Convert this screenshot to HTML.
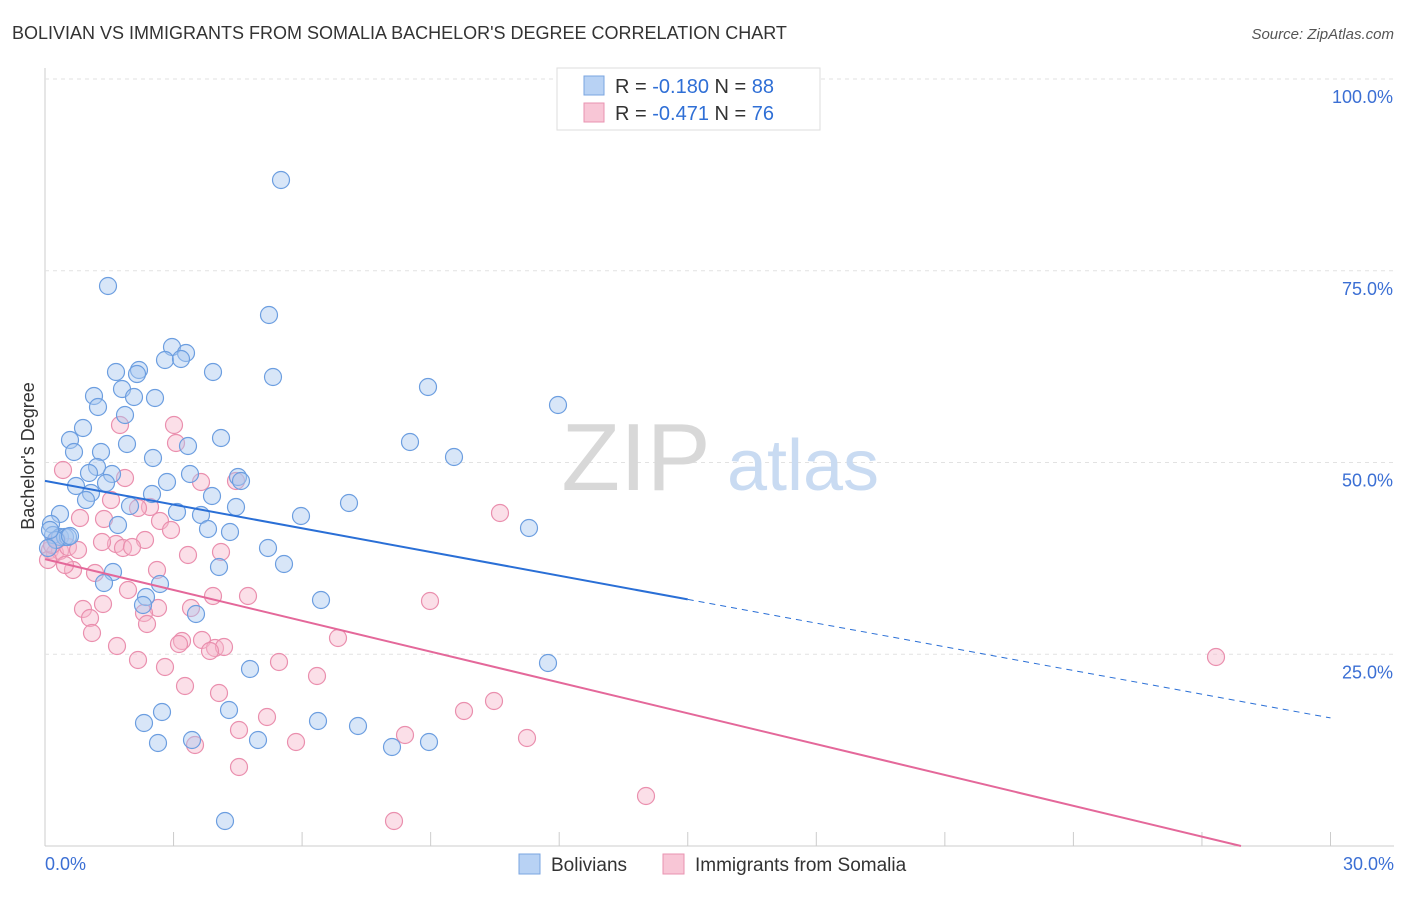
<!DOCTYPE html>
<html><head><meta charset="utf-8"><style>
body{margin:0;background:#fff;font-family:"Liberation Sans",sans-serif}
svg text{font-family:"Liberation Sans",sans-serif}
</style></head><body>
<svg id="c" width="1406" height="892">
<text x="12" y="39" font-size="18" fill="#333">BOLIVIAN VS IMMIGRANTS FROM SOMALIA BACHELOR'S DEGREE CORRELATION CHART</text>
<text x="1394" y="39" font-size="15" fill="#555" text-anchor="end" font-style="italic">Source: ZipAtlas.com</text>
<text x="34" y="456" font-size="18" fill="#333" text-anchor="middle" transform="rotate(-90 34 456)">Bachelor's Degree</text>
<g id="grid"></g>
<text x="636" y="490" font-size="96" fill="#d8d8d8" font-family="Liberation Serif" text-anchor="middle">ZIP</text>
<text x="803" y="490" font-size="72" fill="#c9dbf2" text-anchor="middle">atlas</text>
<g id="pts"></g>
<g id="lines"></g>
<g>
<rect x="557" y="68" width="263" height="62" fill="#fff" stroke="#ddd"/>
<rect x="584" y="76" width="20" height="19" fill="#b8d2f4" stroke="#7aa5e0"/>
<rect x="584" y="103" width="20" height="19" fill="#f8c6d6" stroke="#e993b0"/>
<text x="615" y="93" font-size="20" fill="#333">R = <tspan fill="#2f6fd6">-0.180</tspan>   N = <tspan fill="#2f6fd6">88</tspan></text>
<text x="615" y="120" font-size="20" fill="#333">R = <tspan fill="#2f6fd6">-0.471</tspan>   N = <tspan fill="#2f6fd6">76</tspan></text>
</g>
<g>
<rect x="519" y="854" width="21" height="20" fill="#b8d2f4" stroke="#7aa5e0"/>
<text x="551" y="871" font-size="19" fill="#333">Bolivians</text>
<rect x="663" y="854" width="21" height="20" fill="#f8c6d6" stroke="#e993b0"/>
<text x="695" y="871" font-size="19" fill="#333">Immigrants from Somalia</text>
</g>
<text x="45" y="870" font-size="18" fill="#3b6fd4">0.0%</text>
<text x="1394" y="870" font-size="18" fill="#3b6fd4" text-anchor="end">30.0%</text>
</svg>
<script>
const yTicks=[25,50,75,100];
const yTickLabels=["25.0%","50.0%","75.0%","100.0%"];
const blueTrend=[47.6,16.7];
const pinkTrend=[37.4,-2.8];
const bluePx=[[281,180],[108,286],[269,315],[172,347],[186,353],[165,360],[181,359],[116,372],[139,370],[137,374],[213,372],[273,377],[428,387],[94,396],[122,389],[134,397],[155,398],[98,407],[125,415],[83,428],[70,440],[221,438],[410,442],[127,444],[454,457],[558,405],[74,452],[101,452],[153,458],[188,446],[97,467],[89,473],[112,474],[190,474],[238,477],[241,481],[76,486],[106,483],[91,493],[167,482],[152,494],[212,496],[86,500],[130,506],[349,503],[236,507],[60,514],[177,512],[201,515],[301,516],[118,525],[230,532],[529,528],[208,529],[51,524],[53,535],[60,537],[65,537],[68,537],[56,540],[268,548],[284,564],[113,572],[219,567],[104,583],[160,584],[321,600],[146,597],[143,605],[196,614],[548,663],[250,669],[144,723],[162,712],[229,710],[318,721],[358,726],[158,743],[192,740],[258,740],[392,747],[429,742],[225,821],[50,530],[48,548],[70,536]];
const pinkPx=[[63,470],[174,425],[120,425],[176,443],[125,478],[111,500],[236,481],[201,482],[150,507],[138,508],[80,518],[104,519],[160,521],[171,530],[145,540],[116,544],[102,542],[123,548],[132,547],[50,550],[55,553],[60,551],[68,547],[78,550],[73,570],[65,565],[95,573],[188,555],[221,552],[157,570],[128,590],[103,604],[83,609],[158,608],[191,608],[213,596],[248,596],[430,601],[500,513],[90,618],[144,613],[147,624],[92,633],[117,646],[182,641],[179,644],[202,640],[215,648],[224,647],[210,651],[338,638],[138,660],[165,667],[279,662],[317,676],[185,686],[219,693],[267,717],[239,730],[494,701],[464,711],[405,735],[527,738],[296,742],[195,745],[239,767],[646,796],[394,821],[1216,657],[48,560],[52,545],[57,540]];
// convert read pixel positions to data values (x in %, y in %)
const blueX=bluePx.map(p=>(p[0]-45)/42.85), blueY=bluePx.map(p=>(846-p[1])/7.67);
const pinkX=pinkPx.map(p=>(p[0]-45)/42.85), pinkY=pinkPx.map(p=>(846-p[1])/7.67);
const X=v=>45+v*42.85, Y=v=>846-v*7.67;
const NS="http://www.w3.org/2000/svg";
function mk(t,a,parent){const e=document.createElementNS(NS,t);for(const k in a)e.setAttribute(k,a[k]);parent.appendChild(e);return e;}
const grid=document.getElementById('grid');
let ax=mk('line',{x1:45,y1:68,x2:45,y2:846,stroke:'#ccc'},grid);


let bx=mk('line',{x1:45,y1:846,x2:1394,y2:846,stroke:'#ccc'},grid);


for(let i=1;i<=10;i++){let t=mk('line',{x1:X(i*3),y1:832,x2:X(i*3),y2:846,stroke:'#ccc'},grid);

}
yTicks.forEach((v,i)=>{let g=mk('line',{x1:45,y1:Y(v),x2:1394,y2:Y(v),stroke:'#e2e2e2','stroke-dasharray':'4 4'},grid);


let t=mk('text',{x:1393,y:Y(v)+24,'font-size':18,fill:'#3b6fd4','text-anchor':'end'},grid);t.textContent=yTickLabels[i];

});
const pts=document.getElementById('pts');
pinkX.forEach((x,i)=>{let c=mk('circle',{cx:X(x),cy:Y(pinkY[i]),r:8.5,fill:'#f6b9cd','fill-opacity':0.45,stroke:'#ea8fae','stroke-width':1.2},pts);

});
blueX.forEach((x,i)=>{let c=mk('circle',{cx:X(x),cy:Y(blueY[i]),r:8.5,fill:'#a9c7ef','fill-opacity':0.45,stroke:'#6c9ee0','stroke-width':1.2},pts);

});
const L=document.getElementById('lines');
const by=x=>blueTrend[0]+(blueTrend[1]-blueTrend[0])*x/30;
let b1=mk('line',{x1:X(0),y1:Y(by(0)),x2:X(15),y2:Y(by(15)),stroke:'#2a6fd6','stroke-width':2},L);


let b2=mk('line',{x1:X(15),y1:Y(by(15)),x2:X(30),y2:Y(by(30)),stroke:'#2a6fd6','stroke-width':1,'stroke-dasharray':'6 5'},L);


const py=x=>pinkTrend[0]+(pinkTrend[1]-pinkTrend[0])*x/30;
const xEnd=30*(0-pinkTrend[0])/(pinkTrend[1]-pinkTrend[0]);
let p1=mk('line',{x1:X(0),y1:Y(py(0)),x2:X(xEnd),y2:Y(0),stroke:'#e4689a','stroke-width':2},L);


</script>
</body></html>
